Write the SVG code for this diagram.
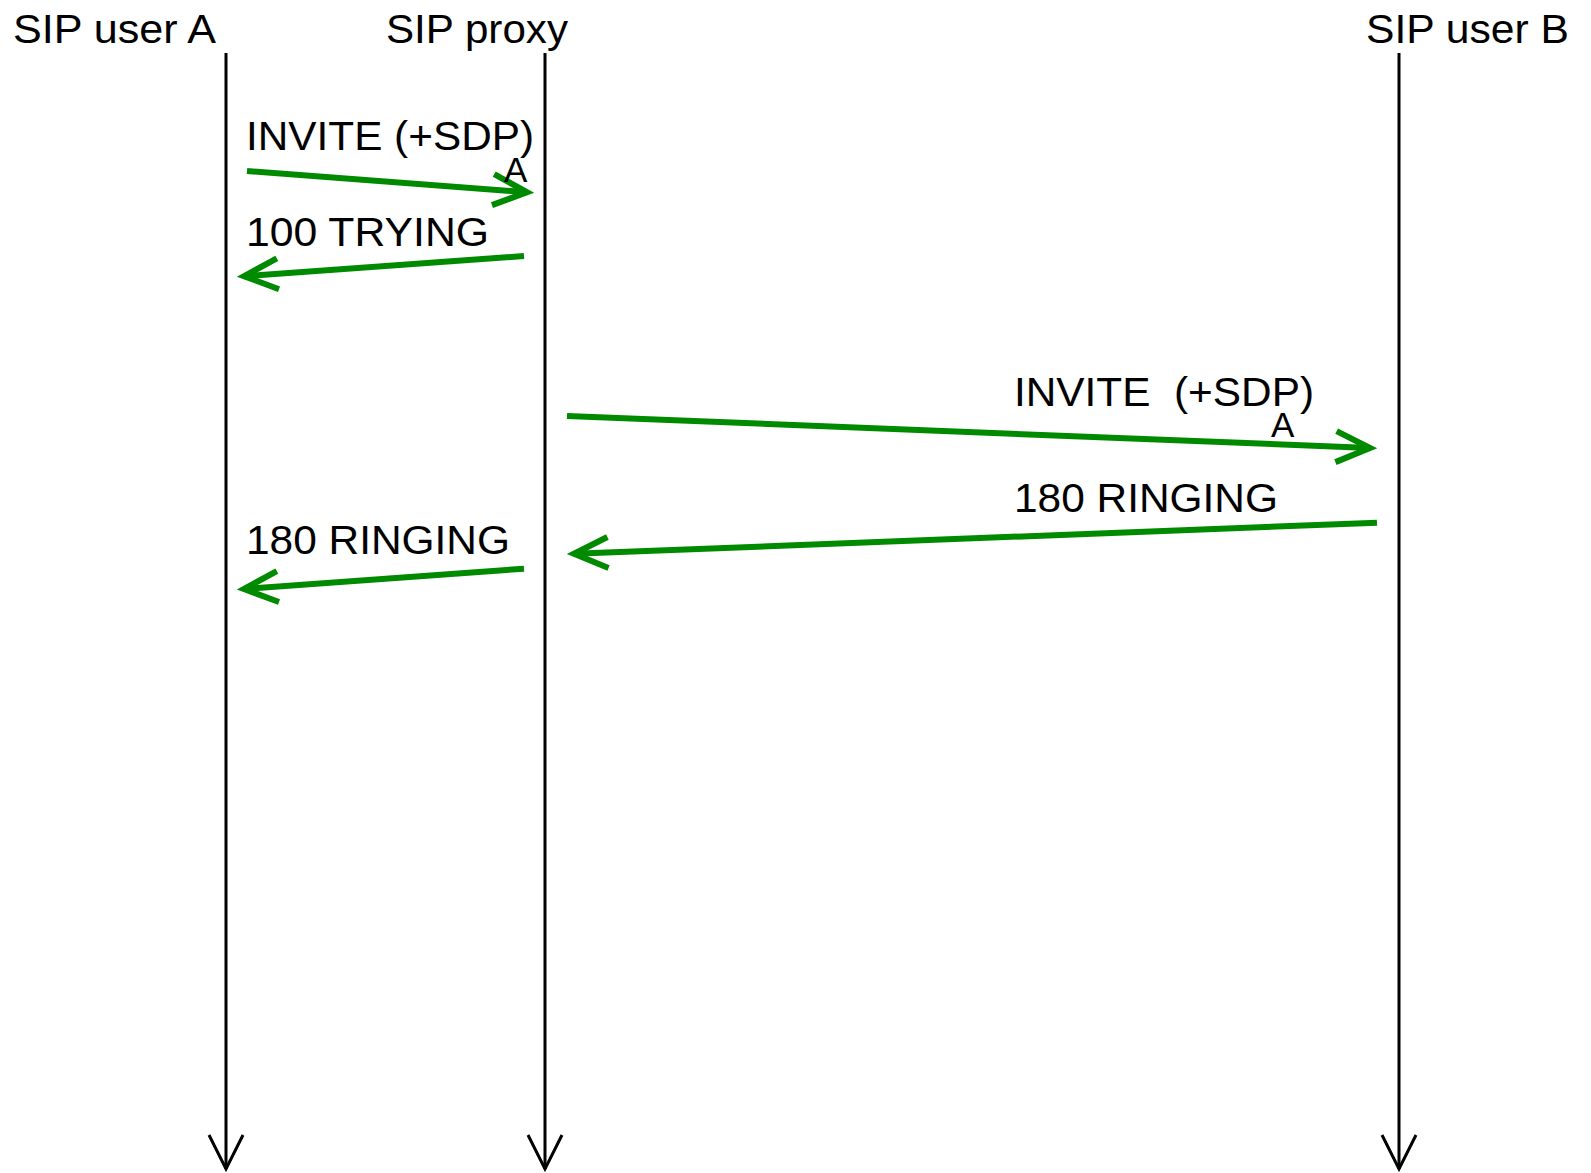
<svg xmlns="http://www.w3.org/2000/svg" width="1591" height="1173" viewBox="0 0 1591 1173">
  <style>
    text { font-family: "Liberation Sans", Arial, sans-serif; fill: #000; white-space: pre; }
    .title { font-size: 40px; }
    .msg { font-size: 40px; }
    .tag { font-size: 35px; }
    .life { stroke: #000; stroke-width: 3; fill: none; marker-end: url(#lifeHead); }
    .sig { stroke: #008a00; stroke-width: 6; fill: none; marker-end: url(#sigHead); }
  </style>
  <defs>
    <!-- open arrowhead at the bottom of each lifeline -->
    <marker id="lifeHead" markerUnits="userSpaceOnUse" orient="auto" viewBox="-45 -25 60 50" markerWidth="60" markerHeight="50" refX="0" refY="0" overflow="visible">
      <path d="M-34,-17 L0,0 L-34,17" fill="none" stroke="#000" stroke-width="3" stroke-linejoin="miter"/>
    </marker>
    <!-- open arrowhead for the SIP messages -->
    <marker id="sigHead" markerUnits="userSpaceOnUse" orient="auto" viewBox="-50 -25 70 50" markerWidth="70" markerHeight="50" refX="0" refY="0" overflow="visible">
      <path d="M-34,-15.5 L0,0 L-34,15.5" fill="none" stroke="#008a00" stroke-width="6" stroke-linejoin="miter" stroke-miterlimit="10"/>
    </marker>
  </defs>

  <rect x="0" y="0" width="1591" height="1173" fill="#fff"/>

  <!-- participants with their lifelines -->
  <g id="userA">
    <text class="title" x="13" y="43" textLength="203" lengthAdjust="spacingAndGlyphs">SIP user A</text>
    <line class="life" x1="226" y1="53" x2="226" y2="1169"/>
  </g>
  <g id="proxy">
    <text class="title" x="386" y="43" textLength="182" lengthAdjust="spacingAndGlyphs">SIP proxy</text>
    <line class="life" x1="545" y1="53" x2="545" y2="1169"/>
  </g>
  <g id="userB">
    <text class="title" x="1366" y="43" textLength="203" lengthAdjust="spacingAndGlyphs">SIP user B</text>
    <line class="life" x1="1399" y1="53" x2="1399" y2="1169"/>
  </g>

  <!-- message arrows -->
  <g id="connectors">
    <line class="sig" x1="247" y1="171" x2="527" y2="192.2"/>
    <line class="sig" x1="524" y1="256" x2="244" y2="276.2"/>
    <line class="sig" x1="567" y1="416" x2="1370" y2="448"/>
    <line class="sig" x1="1377" y1="522.7" x2="574" y2="553.8"/>
    <line class="sig" x1="524" y1="568.7" x2="244" y2="589"/>
  </g>

  <!-- message labels -->
  <g id="labels">
    <text class="msg" x="246" y="150" textLength="288" lengthAdjust="spacingAndGlyphs">INVITE (+SDP)</text>
    <text class="tag" x="504" y="182">A</text>
    <text class="msg" x="246" y="246" textLength="243" lengthAdjust="spacingAndGlyphs">100 TRYING</text>
    <text class="msg" x="1014" y="406" textLength="300" lengthAdjust="spacingAndGlyphs">INVITE  (+SDP)</text>
    <text class="tag" x="1271" y="437">A</text>
    <text class="msg" x="1014" y="512" textLength="264" lengthAdjust="spacingAndGlyphs">180 RINGING</text>
    <text class="msg" x="246" y="554" textLength="264" lengthAdjust="spacingAndGlyphs">180 RINGING</text>
  </g>
</svg>
